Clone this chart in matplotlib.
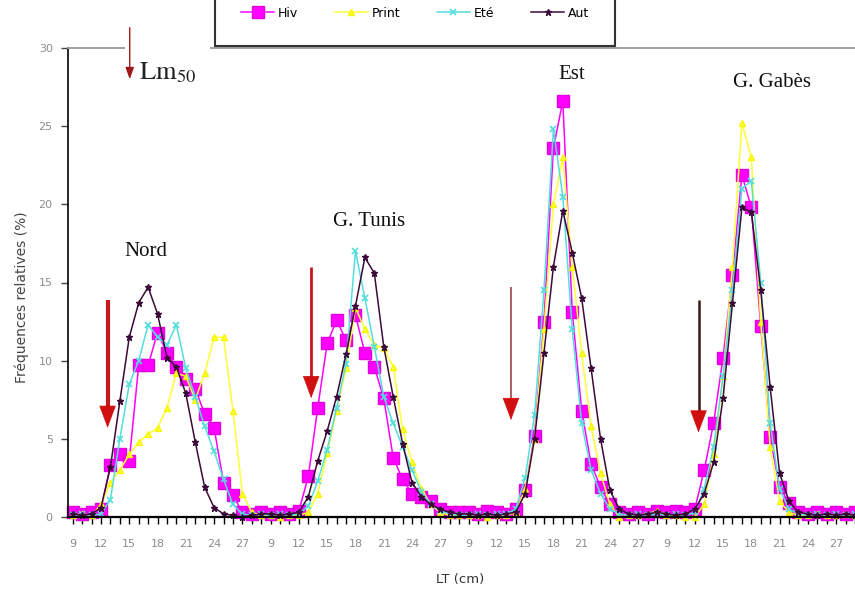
import matplotlib
matplotlib.use("Agg")
import matplotlib.pyplot as plt
import numpy as np

plt.rcParams['mathtext.fontset'] = 'stix'

# length classes (cm), same for the 4 regions
lengths = list(range(9, 30))
regions = ["Nord", "G. Tunis", "Est", "G. Gabès"]

hiv_nord = [0.3, 0.2, 0.3, 0.5, 3.3, 4.0, 3.6, 9.7, 9.7, 11.8, 10.5, 9.6, 8.8, 8.2, 6.6, 5.7, 2.2, 1.4, 0.3, 0.2, 0.3]
print_nord = [0.1, 0.2, 0.1, 0.8, 2.2, 3.0, 4.0, 4.8, 5.3, 5.7, 7.0, 9.2, 9.0, 7.5, 9.2, 11.5, 11.5, 6.8, 1.5, 0.3, 0.1]
ete_nord = [0.1, 0.2, 0.1, 0.2, 1.1, 5.0, 8.5, 10.0, 12.3, 11.5, 11.0, 12.3, 9.5, 7.7, 5.8, 4.2, 2.4, 0.8, 0.2, 0.1, 0.2]
aut_nord = [0.2, 0.1, 0.2, 0.6, 3.2, 7.4, 11.5, 13.7, 14.7, 13.0, 10.2, 9.6, 7.9, 4.8, 1.9, 0.6, 0.2, 0.1, 0.0, 0.1, 0.2]

hiv_tunis = [0.2, 0.3, 0.2, 0.4, 2.6, 7.0, 11.1, 12.6, 11.3, 12.9, 10.5, 9.6, 7.6, 3.8, 2.4, 1.5, 1.3, 1.0, 0.5, 0.3, 0.3]
print_tunis = [0.1, 0.0, 0.1, 0.1, 0.3, 1.5, 4.1, 6.8, 9.5, 13.4, 12.0, 11.0, 10.8, 9.6, 5.6, 3.5, 1.8, 0.8, 0.3, 0.1, 0.1]
ete_tunis = [0.1, 0.2, 0.1, 0.2, 0.7, 2.3, 4.3, 7.0, 9.8, 17.0, 14.0, 10.9, 7.7, 6.0, 4.5, 3.0, 1.6, 0.8, 0.4, 0.2, 0.1]
aut_tunis = [0.2, 0.1, 0.2, 0.3, 1.3, 3.6, 5.5, 7.7, 10.4, 13.5, 16.6, 15.6, 10.9, 7.7, 4.7, 2.2, 1.3, 0.8, 0.5, 0.3, 0.2]

hiv_est = [0.3, 0.2, 0.4, 0.3, 0.2, 0.5, 1.7, 5.2, 12.5, 23.6, 26.6, 13.1, 6.8, 3.4, 1.9, 0.8, 0.3, 0.2, 0.3, 0.2, 0.4]
print_est = [0.1, 0.1, 0.0, 0.1, 0.1, 0.3, 1.8, 5.0, 12.0, 20.0, 23.0, 16.0, 10.5, 5.8, 2.8, 0.8, 0.0, 0.1, 0.1, 0.2, 0.4]
ete_est = [0.1, 0.2, 0.1, 0.2, 0.2, 0.5, 2.5, 6.5, 14.5, 24.8, 20.5, 12.0, 6.0, 3.0, 1.5, 0.5, 0.2, 0.1, 0.2, 0.1, 0.2]
aut_est = [0.2, 0.1, 0.2, 0.1, 0.2, 0.3, 1.5, 5.0, 10.5, 16.0, 19.6, 16.9, 14.0, 9.5, 5.0, 1.7, 0.5, 0.2, 0.1, 0.2, 0.3]

hiv_gabes = [0.3, 0.4, 0.3, 0.5, 3.0, 6.0, 10.2, 15.5, 21.9, 19.8, 12.2, 5.1, 1.9, 0.9, 0.3, 0.2, 0.3, 0.2, 0.3, 0.2, 0.3]
print_gabes = [0.1, 0.1, 0.0, 0.0, 0.8, 4.0, 9.0, 16.0, 25.2, 23.0, 12.5, 4.5, 1.0, 0.3, 0.1, 0.1, 0.2, 0.1, 0.1, 0.2, 0.1]
ete_gabes = [0.1, 0.2, 0.1, 0.3, 1.8, 4.5, 9.0, 14.5, 21.0, 21.5, 15.0, 6.0, 1.8, 0.5, 0.2, 0.1, 0.2, 0.1, 0.2, 0.1, 0.2]
aut_gabes = [0.2, 0.1, 0.2, 0.5, 1.5, 3.5, 7.6, 13.7, 19.8, 19.5, 14.5, 8.3, 2.8, 1.0, 0.3, 0.2, 0.1, 0.2, 0.1, 0.2, 0.1]

# Lm50 (cm) per region and label positions
lm50 = [12.7, 13.3, 13.5, 12.4]
region_label_y = [17.0, 18.9, 28.3, 27.8]

hiv = hiv_nord + hiv_tunis + hiv_est + hiv_gabes
prin = print_nord + print_tunis + print_est + print_gabes
ete = ete_nord + ete_tunis + ete_est + ete_gabes
aut = aut_nord + aut_tunis + aut_est + aut_gabes

n = len(lengths)
x = np.arange(4 * n)

fig = plt.figure(figsize=(8.55, 5.93), dpi=100)
ax = fig.add_axes([68 / 855, 76 / 593, 787 / 855, 469 / 593])

l1, = ax.plot(x, hiv, color='#FF00FF', lw=1.1, marker='s', ms=9, mec='#E000E0', mfc='#FF00FF', clip_on=False, label='Hiv')
l2, = ax.plot(x, prin, color='#FFFF33', lw=1.1, marker='^', ms=5, mec='#F5F500', mfc='#FFFF33', clip_on=False, label='Print')
l3, = ax.plot(x, ete, color='#55DDDD', lw=1.1, marker='x', ms=5, mew=1.2, clip_on=False, label='Eté')
l4, = ax.plot(x, aut, color='#3A0A38', lw=1.1, marker='*', ms=5, clip_on=False, label='Aut')

ax.set_xlim(-0.5, 82.6)
ax.set_ylim(0, 30)

ticklabels = [str(lengths[i % n]) if (i % n) % 3 == 0 else '' for i in x]
ax.set_xticks(x)
ax.set_xticklabels(ticklabels)
ax.set_yticks(range(0, 31, 5))
ax.tick_params(axis='x', length=5, width=1, color='black', pad=11, labelsize=8, labelcolor='#8c8c8c')
ax.tick_params(axis='y', length=5, width=1, color='#444444', pad=6, labelsize=8, labelcolor='#8c8c8c')

ax.spines['right'].set_visible(False)
ax.spines['top'].set_color('#999999')
ax.spines['top'].set_linewidth(1.3)
ax.spines['left'].set_linewidth(1.2)
ax.spines['bottom'].set_linewidth(1.6)

# region names and Lm50 arrows
arrow_top = [13.9, 16.0, 14.7, 13.9]
arrow_tip = [5.7, 7.6, 6.2, 5.4]
shaft_col = ['#C8161D', '#C8161D', '#A04848', '#3C1414']
shaft_w = [3.0, 2.0, 1.2, 1.8]
region_label_x = [7.8, 31.4, 53.0, 74.2]
for r in range(4):
    xa = r * n + (lm50[r] - lengths[0])
    ax.plot([xa, xa], [arrow_top[r], arrow_tip[r] + 1.0], color=shaft_col[r], lw=shaft_w[r], solid_capstyle='butt')
    ax.annotate('', xy=(xa, arrow_tip[r]), xytext=(xa, arrow_tip[r] + 1.4),
                arrowprops=dict(arrowstyle='-|>,head_length=0.75,head_width=0.28', color='#D01010', lw=0.5,
                                mutation_scale=20, shrinkA=0, shrinkB=0))
    ax.text(region_label_x[r], region_label_y[r], regions[r], ha='center', va='center',
            fontsize=15, family='Liberation Serif', color='#111111')

ax.text(7.0, 28.0, r'$\mathrm{Lm}_{50}$', fontsize=19, va='baseline', ha='left', color='#222222',
        bbox=dict(fc='white', ec='none', pad=10), zorder=5)
ax.annotate('', xy=(6.05, 28.0), xytext=(6.05, 31.3), annotation_clip=False,
            arrowprops=dict(arrowstyle='-|>,head_length=0.5,head_width=0.18', color='#A01818', lw=1.0,
                            mutation_scale=14, shrinkA=0, shrinkB=0), zorder=6)

fig.text(22 / 855, 1 - 297 / 593, 'Fréquences relatives (%)', rotation=90, ha='center', va='center',
         fontsize=10, color='#444444')
fig.text(460 / 855, 1 - 580 / 593, 'LT (cm)', ha='center', va='center', fontsize=9.5, color='#333333')

leg = fig.legend(handles=[l1, l2, l3, l4], loc='lower left', ncol=4, mode='expand',
                 bbox_to_anchor=(215 / 855, 1 - 46 / 593, 400 / 855, 0.1), bbox_transform=fig.transFigure,
                 fontsize=9, frameon=True, fancybox=False, borderpad=2.1, handlelength=2.6,
                 handletextpad=0.3, columnspacing=2.0, borderaxespad=0)
leg.get_frame().set_edgecolor('black')
leg.get_frame().set_linewidth(1.5)

fig.savefig('out.png', dpi=100)
